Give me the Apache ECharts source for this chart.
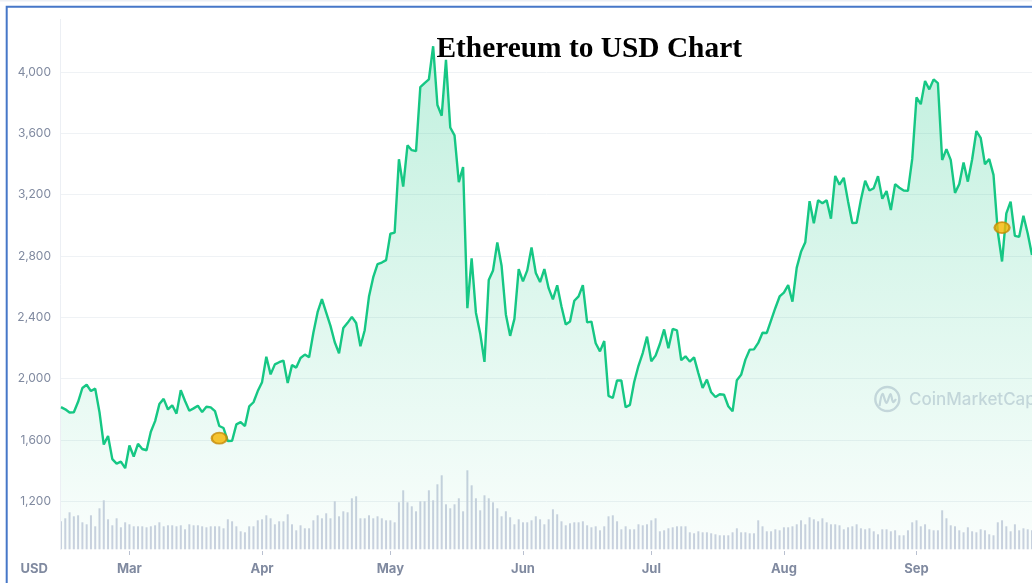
<!DOCTYPE html>
<html>
<head>
<meta charset="utf-8">
<script src="https://cdn.jsdelivr.net/npm/echarts@6/dist/echarts.min.js"></script>
<style>
  html, body { margin: 0; padding: 0; background: #ffffff; }
  #chart { width: 1032px; height: 583px; }
</style>
</head>
<body>
<div id="chart"></div>
<script>
// ---- Data (ETH/USD daily close) ----
const monthNames = ['Jan','Feb','Mar','Apr','May','Jun','Jul','Aug','Sep','Oct','Nov','Dec'];
const monthStarts = [['2021-02', 13], ['2021-03', 1], ['2021-04', 1], ['2021-05', 1], ['2021-06', 1], ['2021-07', 1], ['2021-08', 1], ['2021-09', 1]];

const priceFeb = [1814,1800,1779,1781,1849,1939,1960,1919,1935,1781,1570,1626,1475,1446,1459,1416];
const priceMar = [1564,1492,1575,1541,1533,1654,1723,1834,1868,1799,1826,1772,1924,1854,1791,1806,1823,1782,1817,1813,1788,1691,1678,1593,1595,1702,1716,1691,1819,1846,1919];
const priceApr = [1977,2143,2028,2093,2107,2118,1971,2088,2072,2135,2157,2139,2299,2435,2519,2431,2344,2237,2166,2330,2364,2403,2363,2211,2316,2535,2662,2747,2757,2773];
const priceMay = [2945,2952,3431,3253,3522,3490,3484,3902,3928,3952,4168,3785,3715,4079,3638,3587,3282,3380,2460,2784,2430,2295,2109,2643,2706,2888,2736,2419,2279,2390,2714];
const priceJun = [2634,2706,2855,2689,2630,2715,2590,2517,2609,2471,2353,2372,2508,2537,2610,2367,2372,2231,2178,2245,1888,1874,1989,1988,1813,1829,1978,2084,2167,2274];
const priceJul = [2113,2150,2226,2321,2198,2324,2315,2120,2146,2111,2139,2036,1940,1994,1911,1880,1898,1895,1820,1787,1990,2025,2124,2189,2191,2233,2299,2298,2380,2461,2536];
const priceAug = [2561,2610,2502,2724,2827,2890,3157,3013,3163,3144,3164,3043,3322,3265,3310,3156,3014,3017,3167,3290,3227,3242,3320,3173,3224,3100,3269,3245,3227,3225,3433];
const priceSep = [3834,3790,3941,3887,3952,3928,3426,3497,3427,3211,3270,3410,3285,3429,3615,3571,3398,3432,3329,2958,2764,3078,3155,2931,2925,3062,2947,2807];

// Volume (billion USD)
const volFeb = [28,31,37,33,34,27,25,34,23,41,49,30,24,31,22,27];
const volMar = [25,23,23,23,22,23,24,27,23,24,24,23,24,20,25,24,24,23,22,23,23,23,21,30,28,23,18,17,23,23,29];
const volApr = [30,34,31,25,28,28,35,25,19,24,21,21,29,34,31,36,31,48,33,38,37,51,53,31,31,34,31,33,31,29];
const volMay = [29,27,47,59,47,43,38,48,48,59,49,65,74,45,41,45,51,38,79,64,51,39,54,51,47,41,33,38,32,25,30];
const volJun = [27,27,29,33,30,25,30,40,35,28,24,26,27,27,28,24,22,23,19,23,33,34,28,20,23,20,20,25,24,25];
const volJul = [29,31,18,19,21,22,23,23,23,17,16,18,17,17,16,15,14,14,14,17,21,17,17,16,16,29,23,18,18,20,19];
const volAug = [22,22,23,25,29,25,32,30,28,31,27,25,25,24,20,22,23,25,21,20,21,18,15,20,20,18,19,14,14,19,27];
const volSep = [29,23,25,20,19,19,39,31,24,23,19,17,22,18,17,20,19,15,14,27,29,23,18,25,19,21,20,19];

// Highlighted points (orange ellipses)
const markerDates = ['2021-03-22', '2021-09-21'];
const markerValues = [1612, 2985];

// ---- Build series arrays ----
const priceMonths = [priceFeb, priceMar, priceApr, priceMay, priceJun, priceJul, priceAug, priceSep];
const volMonths = [volFeb, volMar, volApr, volMay, volJun, volJul, volAug, volSep];
const dates = [], prices = [], volumes = [];
monthStarts.forEach(function (ms, m) {
  priceMonths[m].forEach(function (p, j) {
    const d = ms[1] + j;
    dates.push(ms[0] + '-' + (d < 10 ? '0' + d : '' + d));
    prices.push(p);
    volumes.push(volMonths[m][j]);
  });
});
const markers = markerDates.map(function (d, i) { return [d, markerValues[i]]; });

const chart = echarts.init(document.getElementById('chart'), null, { renderer: 'canvas' });
const labelColor = '#808aa0';
const faint = '#d5d8e3';

chart.setOption({
  animation: false,
  backgroundColor: '#ffffff',
  grid: { left: 61, right: 0, top: 10.67, bottom: 20.37, containLabel: false },
  xAxis: {
    type: 'category',
    data: dates,
    boundaryGap: false,
    offset: -11.6,
    axisLine: { show: false, onZero: false },
    axisTick: {
      show: true, length: 4,
      interval: function (i, v) { return v.slice(8) === '01'; },
      lineStyle: { color: '#b9c0d0', width: 1 }
    },
    axisLabel: {
      interval: function (i, v) { return v.slice(8) === '01'; },
      formatter: function (v) { return monthNames[parseInt(v.slice(5, 7), 10) - 1]; },
      color: labelColor, fontFamily: 'Inter', fontWeight: 'bold', fontSize: 13, margin: 12
    },
    splitLine: { show: false }
  },
  yAxis: [
    {
      type: 'value', min: 800, max: 4400, interval: 400,
      axisLine: { show: false }, axisTick: { show: false },
      axisLabel: {
        color: labelColor, fontFamily: 'Inter', fontSize: 12, margin: 10,
        showMinLabel: false, showMaxLabel: false,
        formatter: function (v) { return v.toLocaleString('en-US'); }
      },
      splitLine: { show: true, showMinLine: false, showMaxLine: false, lineStyle: { color: '#eff2f5', width: 1 } }
    },
    {
      type: 'value', min: -13.33, max: 538.63, show: false,
      splitLine: { show: false }
    }
  ],
  series: [
    {
      name: 'Volume', type: 'bar', yAxisIndex: 1, data: volumes,
      barWidth: 2, itemStyle: { color: '#ccd1e0' }, z: 1, silent: true
    },
    {
      name: 'ETH', type: 'line', data: prices, yAxisIndex: 0,
      showSymbol: false, symbol: 'none', smooth: false,
      lineStyle: { color: '#16c784', width: 2.4 },
      areaStyle: {
        origin: 887,
        color: {
          type: 'linear', x: 0, y: 0, x2: 0, y2: 1,
          colorStops: [
            { offset: 0, color: 'rgba(22,199,132,0.38)' },
            { offset: 1, color: 'rgba(22,199,132,0.03)' }
          ]
        }
      },
      z: 3
    },
    {
      name: 'Highlight', type: 'scatter', data: markers, yAxisIndex: 0,
      symbol: 'circle', symbolSize: [15, 11],
      itemStyle: { color: '#f6b600', borderColor: '#c58a05', borderWidth: 2 },
      z: 5
    }
  ],
  graphic: [
    { type: 'rect', shape: { x: 0, y: 0, width: 1032, height: 1.6 }, style: { fill: '#edf0f5' }, silent: true, z: 10 },
    { type: 'rect', shape: { x: 6.7, y: 6.7, width: 1200, height: 800 }, style: { fill: 'none', stroke: '#4677c8', lineWidth: 2 }, silent: true, z: 100 },
    { type: 'line', shape: { x1: 60.5, y1: 19, x2: 60.5, y2: 550 }, style: { stroke: '#eceff4', lineWidth: 1 }, silent: true, z: 2 },
    { type: 'text', x: 20.5, y: 569, style: { text: 'USD', fill: labelColor, font: 'bold 13px Inter', textAlign: 'left', textVerticalAlign: 'middle' }, silent: true },
    { type: 'text', x: 589.2, y: 49.5, style: { text: 'Ethereum to USD Chart', fill: '#000000', font: 'bold 29.4px "Liberation Serif", "Times New Roman", serif', textAlign: 'center', textVerticalAlign: 'middle' }, silent: true, z: 50 },
    { type: 'circle', shape: { cx: 887.3, cy: 399, r: 12 }, style: { fill: 'none', stroke: faint, lineWidth: 2.4 }, silent: true, z: 0 },
    { type: 'polyline', shape: { points: [[879.5, 406], [882.5, 394], [886.5, 403], [890.5, 394], [893, 402], [896, 399]], smooth: 0.35 }, style: { fill: 'none', stroke: faint, lineWidth: 2.2 }, silent: true, z: 0 },
    { type: 'text', x: 909, y: 400, style: { text: 'CoinMarketCap', fill: faint, font: '500 17px Inter', textAlign: 'left', textVerticalAlign: 'middle' }, silent: true, z: 0 }
  ]
});
</script>
</body>
</html>
